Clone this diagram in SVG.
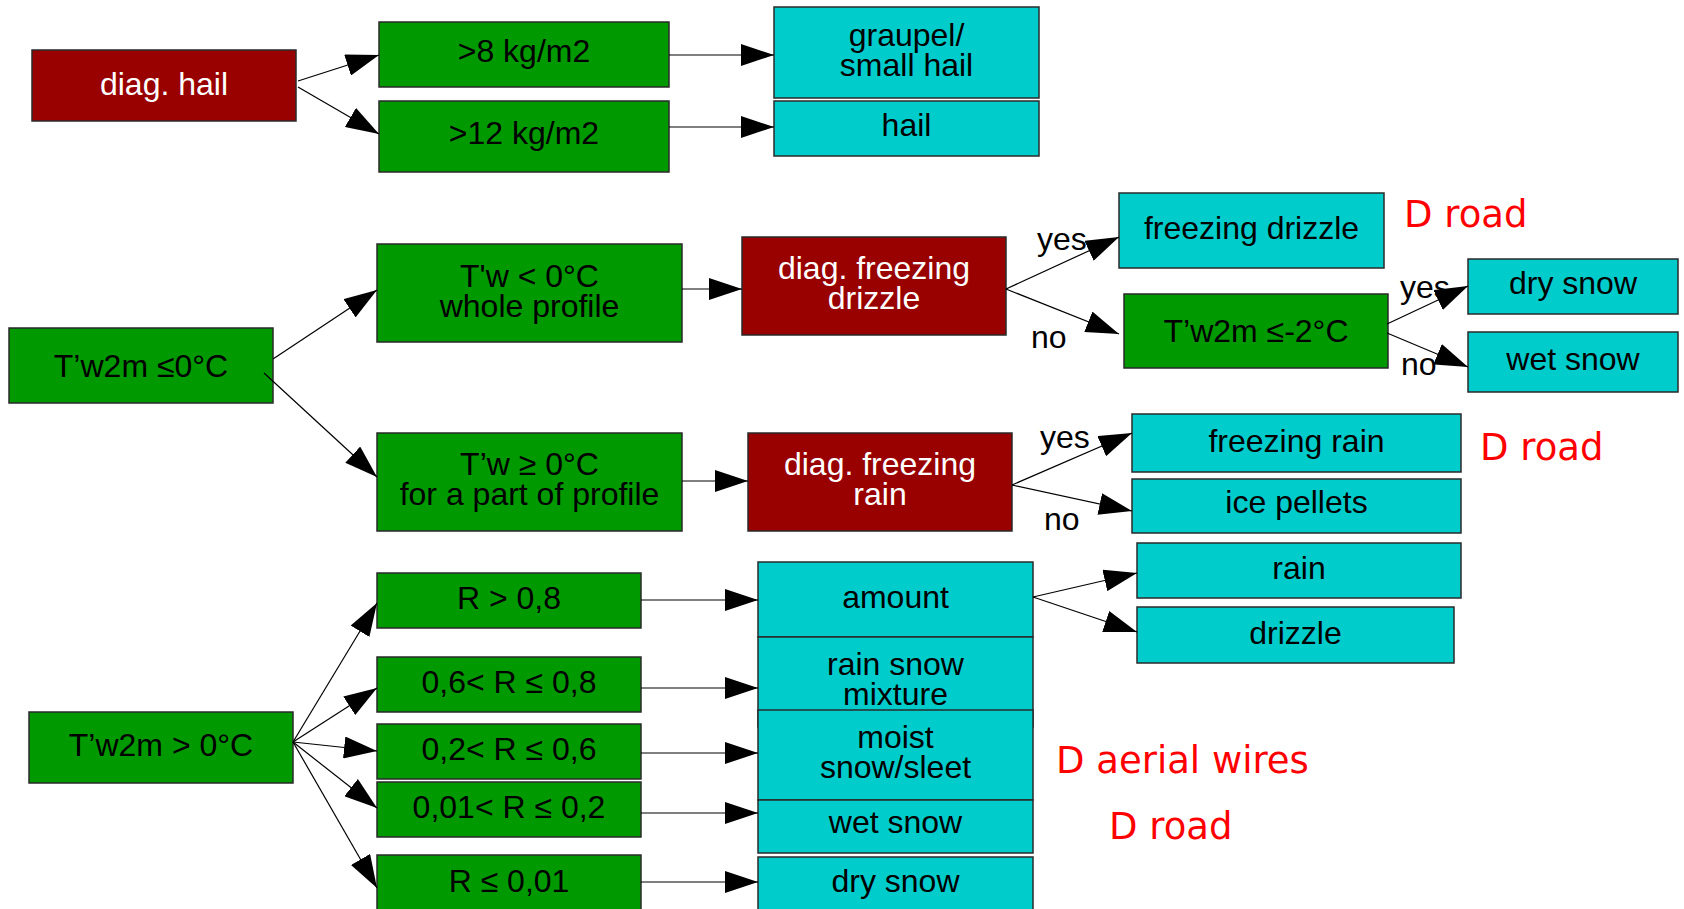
<svg xmlns="http://www.w3.org/2000/svg" width="1684" height="909" viewBox="0 0 1684 909">
<style>
.box{stroke:#2a2a2a;stroke-width:1.5}
.red{fill:#990000}
.grn{fill:#009900}
.cyn{fill:#00cccc}
.t{font-family:"Liberation Sans",Arial,sans-serif;font-size:32px;text-anchor:middle;fill:#000}
.w{fill:#fff}
.lab{font-family:"Liberation Sans",Arial,sans-serif;font-size:32px;fill:#000}
.note{font-family:"DejaVu Sans",sans-serif;font-size:37px;fill:#ff0000}
.c{stroke:#000;stroke-width:1.2;fill:none;marker-end:url(#ah)}
</style>
<defs>
<marker id="ah" markerUnits="userSpaceOnUse" markerWidth="33" markerHeight="22" refX="33" refY="11" orient="auto" viewBox="0 0 33 22">
<path d="M0,0 L33,11 L0,22 z" fill="#000"/>
</marker>
</defs>
<rect width="1684" height="909" fill="#fff"/>

<g id="n-diag-hail"><rect class="box red" x="32" y="50" width="264" height="71"/><text class="t w" x="164" y="95">diag. hail</text></g>
<g id="n-8kg"><rect class="box grn" x="379" y="22" width="290" height="65"/><text class="t" x="524" y="62">&gt;8 kg/m2</text></g>
<g id="n-12kg"><rect class="box grn" x="379" y="101" width="290" height="71"/><text class="t" x="524" y="144">&gt;12 kg/m2</text></g>
<g id="n-graupel"><rect class="box cyn" x="774" y="7" width="265" height="91"/><text class="t" x="906.5" y="46">graupel/</text><text class="t" x="906.5" y="76">small hail</text></g>
<g id="n-hail"><rect class="box cyn" x="774" y="101" width="265" height="55"/><text class="t" x="906.5" y="136">hail</text></g>

<g id="n-tw2m-le0"><rect class="box grn" x="9" y="328" width="264" height="75"/><text class="t" x="141" y="377">T’w2m ≤0°C</text></g>
<g id="n-tw-lt0"><rect class="box grn" x="377" y="244" width="305" height="98"/><text class="t" x="529.5" y="287">T'w &lt; 0°C</text><text class="t" x="529.5" y="317">whole profile</text></g>
<g id="n-tw-ge0"><rect class="box grn" x="377" y="433" width="305" height="98"/><text class="t" x="529.5" y="475">T’w ≥ 0°C</text><text class="t" x="529.5" y="505">for a part of profile</text></g>
<g id="n-diag-fzdz"><rect class="box red" x="742" y="237" width="264" height="98"/><text class="t w" x="874" y="279">diag. freezing</text><text class="t w" x="874" y="309">drizzle</text></g>
<g id="n-diag-fzra"><rect class="box red" x="748" y="433" width="264" height="98"/><text class="t w" x="880" y="475">diag. freezing</text><text class="t w" x="880" y="505">rain</text></g>
<g id="n-fzdz"><rect class="box cyn" x="1119" y="193" width="265" height="75"/><text class="t" x="1251.5" y="239">freezing drizzle</text></g>
<g id="n-tw2m-le-2"><rect class="box grn" x="1124" y="294" width="264" height="74"/><text class="t" x="1256" y="342">T’w2m ≤-2°C</text></g>
<g id="n-drysnow1"><rect class="box cyn" x="1468" y="259" width="210" height="55"/><text class="t" x="1573" y="294">dry snow</text></g>
<g id="n-wetsnow1"><rect class="box cyn" x="1468" y="332" width="210" height="60"/><text class="t" x="1573" y="370">wet snow</text></g>
<g id="n-fzra"><rect class="box cyn" x="1132" y="414" width="329" height="58"/><text class="t" x="1296.5" y="452">freezing rain</text></g>
<g id="n-icepellets"><rect class="box cyn" x="1132" y="479" width="329" height="54"/><text class="t" x="1296.5" y="513">ice pellets</text></g>

<g id="n-tw2m-gt0"><rect class="box grn" x="29" y="712" width="264" height="71"/><text class="t" x="161" y="756">T’w2m &gt; 0°C</text></g>
<g id="n-r1"><rect class="box grn" x="377" y="573" width="264" height="55"/><text class="t" x="509" y="609">R &gt; 0,8</text></g>
<g id="n-r2"><rect class="box grn" x="377" y="657" width="264" height="55"/><text class="t" x="509" y="693">0,6&lt; R ≤ 0,8</text></g>
<g id="n-r3"><rect class="box grn" x="377" y="724" width="264" height="55"/><text class="t" x="509" y="760">0,2&lt; R ≤ 0,6</text></g>
<g id="n-r4"><rect class="box grn" x="377" y="782" width="264" height="55"/><text class="t" x="509" y="818">0,01&lt; R ≤ 0,2</text></g>
<g id="n-r5"><rect class="box grn" x="377" y="855" width="264" height="62"/><text class="t" x="509" y="892">R ≤ 0,01</text></g>
<g id="n-amount"><rect class="box cyn" x="758" y="562" width="275" height="75"/><text class="t" x="895.5" y="608">amount</text></g>
<g id="n-rainsnow"><rect class="box cyn" x="758" y="637" width="275" height="90"/><text class="t" x="895.5" y="675">rain snow</text><text class="t" x="895.5" y="705">mixture</text></g>
<g id="n-moist"><rect class="box cyn" x="758" y="710" width="275" height="90"/><text class="t" x="895.5" y="748">moist</text><text class="t" x="895.5" y="778">snow/sleet</text></g>
<g id="n-wetsnow2"><rect class="box cyn" x="758" y="800" width="275" height="53"/><text class="t" x="895.5" y="833">wet snow</text></g>
<g id="n-drysnow2"><rect class="box cyn" x="758" y="857" width="275" height="60"/><text class="t" x="895.5" y="892">dry snow</text></g>
<g id="n-rain"><rect class="box cyn" x="1137" y="543" width="324" height="55"/><text class="t" x="1299" y="579">rain</text></g>
<g id="n-drizzle"><rect class="box cyn" x="1137" y="607" width="317" height="56"/><text class="t" x="1295.5" y="644">drizzle</text></g>

<g id="connectors">
<line class="c" x1="298" y1="81" x2="379" y2="55"/>
<line class="c" x1="298" y1="87" x2="379" y2="134"/>
<line class="c" x1="669" y1="55" x2="774" y2="55"/>
<line class="c" x1="669" y1="127" x2="774" y2="127"/>
<line class="c" x1="273" y1="359" x2="377" y2="290"/>
<line class="c" x1="264" y1="373" x2="377" y2="477"/>
<line class="c" x1="682" y1="289" x2="742" y2="289"/>
<line class="c" x1="682" y1="481" x2="748" y2="481"/>
<line class="c" x1="1006" y1="289" x2="1119" y2="237"/>
<line class="c" x1="1006" y1="289" x2="1119" y2="334"/>
<line class="c" x1="1012" y1="485" x2="1132" y2="433"/>
<line class="c" x1="1012" y1="485" x2="1132" y2="511"/>
<line class="c" x1="1387" y1="324" x2="1468" y2="286"/>
<line class="c" x1="1387" y1="333" x2="1468" y2="367"/>
<line class="c" x1="293" y1="742" x2="377" y2="603"/>
<line class="c" x1="293" y1="742" x2="377" y2="688"/>
<line class="c" x1="293" y1="742" x2="377" y2="751"/>
<line class="c" x1="293" y1="742" x2="377" y2="808"/>
<line class="c" x1="293" y1="742" x2="377" y2="888"/>
<line class="c" x1="641" y1="600" x2="758" y2="600"/>
<line class="c" x1="641" y1="688" x2="758" y2="688"/>
<line class="c" x1="641" y1="753" x2="758" y2="753"/>
<line class="c" x1="641" y1="813" x2="758" y2="813"/>
<line class="c" x1="641" y1="882" x2="758" y2="882"/>
<line class="c" x1="1033" y1="597" x2="1137" y2="573"/>
<line class="c" x1="1033" y1="597" x2="1137" y2="632"/>
</g>

<g id="labels">
<text class="lab" x="1037" y="250">yes</text>
<text class="lab" x="1031" y="348">no</text>
<text class="lab" x="1040" y="448">yes</text>
<text class="lab" x="1044" y="530">no</text>
<text class="lab" x="1400" y="298">yes</text>
<text class="lab" x="1401" y="375">no</text>
<text class="note" x="1404" y="227">D road</text>
<text class="note" x="1480" y="460">D road</text>
<text class="note" x="1056" y="773">D aerial wires</text>
<text class="note" x="1109" y="839">D road</text>
</g>
</svg>
